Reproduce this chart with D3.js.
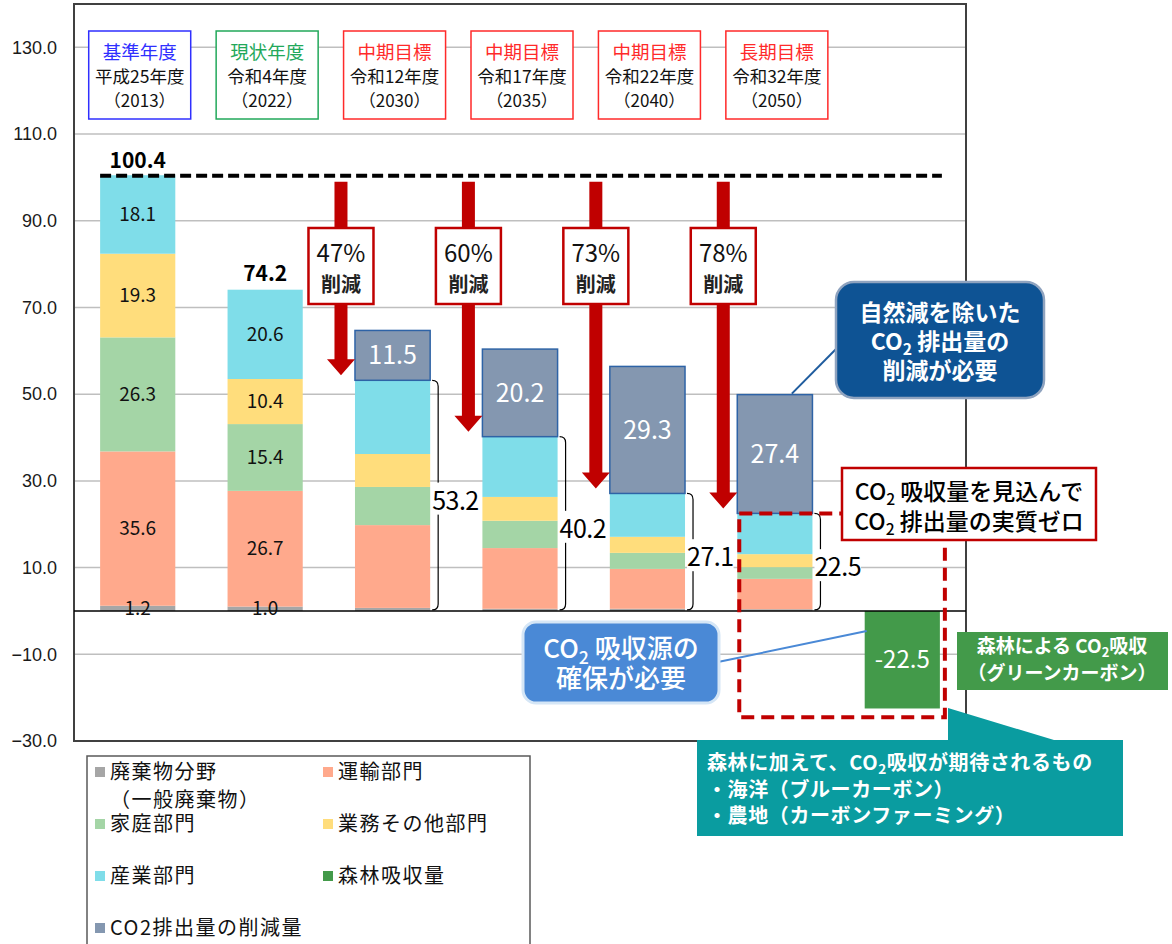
<!DOCTYPE html>
<html lang="ja">
<head>
<meta charset="utf-8">
<script src="https://cdn.jsdelivr.net/npm/d3@7"></script>
<style>
  body { margin: 0; background: #fff; }
  svg { display: block; font-family: "Noto Sans CJK JP", "Noto Sans", sans-serif; }
</style>
</head>
<body>
<svg id="chart" width="1172" height="944"></svg>
<script>
// ---- data ----
const years = ["2013", "2022", "2030", "2035", "2040", "2050", "森林"];
const haikibutsu = [1.2, 1.0, 0.7, 0.5, 0.5, 0.4, 0];
const unyu = [35.6, 26.7, 19.1, 14.0, 9.2, 7.0, 0];
const katei = [26.3, 15.4, 8.8, 6.3, 3.7, 2.7, 0];
const gyomu = [19.3, 10.4, 7.6, 5.5, 3.7, 3.0, 0];
const sangyo = [18.1, 20.6, 17.0, 13.9, 10.0, 9.4, 0];
const sakugen = [0, 0, 11.5, 20.2, 29.3, 27.4, 0];
const shinrin = [0, 0, 0, 0, 0, 0, -22.5];
const totals = [100.4, 74.2, 53.2, 40.2, 27.1, 22.5];
const cutRates = ["47%", "60%", "73%", "78%"];

const headTitles = ["基準年度", "現状年度", "中期目標", "中期目標", "中期目標", "長期目標"];
const headEras = ["平成25年度", "令和4年度", "令和12年度", "令和17年度", "令和22年度", "令和32年度"];
const headYears = ["2013", "2022", "2030", "2035", "2040", "2050"];
const headKinds = ["base", "now", "target", "target", "target", "target"];

const yTicks = [-30, -10, 10, 30, 50, 70, 90, 110, 130];

const keys = ["廃棄物", "運輸", "家庭", "業務", "産業", "削減量"];
const colors = {
    "廃棄物": "#a6a6a6",
    "運輸": "#ffa98c",
    "家庭": "#a4d5a6",
    "業務": "#ffdd7c",
    "産業": "#7fdde9",
    "削減量": "#8497b0",
    "森林": "#439a4a"
};
const headColors = { base: "#2f2fff", now: "#22a85a", target: "#ff2a2a" };

const legendItems = [
    { key: "廃棄物", lines: ["廃棄物分野", "（一般廃棄物）"], col: 0, row: 0 },
    { key: "運輸", lines: ["運輸部門"], col: 1, row: 0 },
    { key: "家庭", lines: ["家庭部門"], col: 0, row: 1 },
    { key: "業務", lines: ["業務その他部門"], col: 1, row: 1 },
    { key: "産業", lines: ["産業部門"], col: 0, row: 2 },
    { key: "森林", lines: ["森林吸収量"], col: 1, row: 2 },
    { key: "削減量", lines: ["CO2排出量の削減量"], col: 0, row: 3 }
];

// table for d3.stack
const rows = years.map((yr, i) => ({
    year: yr,
    "廃棄物": haikibutsu[i],
    "運輸": unyu[i],
    "家庭": katei[i],
    "業務": gyomu[i],
    "産業": sangyo[i],
    "削減量": sakugen[i]
}));

const svg = d3.select("#chart");

const x = d3.scaleBand()
    .domain(years)
    .range([74, 966])
    .paddingInner(0.41)
    .paddingOuter(0.205);

const y = d3.scaleLinear()
    .domain([-30, 140])
    .range([741, 4]);

const bw = x.bandwidth();
const cx = d => x(d) + bw / 2;

// text with "{2}" drawn as subscript
function richText(sel, str, fs) {
    const parts = str.split(/(\{[^}]*\})/);
    let shift = 0;
    parts.forEach(p => {
        if (!p) return;
        if (p[0] == "{") {
            sel.append("tspan")
                .attr("font-size", fs * 0.68)
                .attr("dy", fs * 0.22)
                .text(p.slice(1, -1));
            shift = fs * 0.22;
        } else {
            const t = sel.append("tspan").text(p);
            if (shift) { t.attr("dy", -shift); shift = 0; }
        }
    });
    return sel;
}

// ---- grid + axis ----
svg.append("g")
    .selectAll("line")
    .data(yTicks)
    .join("line")
    .attr("x1", x.range()[0])
    .attr("x2", x.range()[1])
    .attr("y1", d => y(d))
    .attr("y2", d => y(d))
    .attr("stroke", "#bfbfbf")
    .attr("stroke-width", 1.5);

const yAxis = svg.append("g")
    .attr("transform", `translate(${x.range()[0]},0)`)
    .call(d3.axisLeft(y)
        .tickValues(yTicks)
        .tickSize(0)
        .tickPadding(17)
        .tickFormat(d => (d < 0 ? "−" : "") + Math.abs(d).toFixed(1)));
yAxis.select(".domain").remove();
yAxis.selectAll("text")
    .attr("font-family", "'Liberation Sans', Arial, sans-serif")
    .attr("font-size", 18)
    .attr("fill", "#1a1a1a");

// plot frame
svg.append("rect")
    .attr("x", x.range()[0])
    .attr("y", y.range()[1])
    .attr("width", x.range()[1] - x.range()[0])
    .attr("height", y.range()[0] - y.range()[1])
    .attr("fill", "none")
    .attr("stroke", "#404040")
    .attr("stroke-width", 2);

// ---- stacked bars ----
const stacked = d3.stack().keys(keys)(rows);

const layer = svg.append("g")
    .selectAll("g")
    .data(stacked)
    .join("g")
    .attr("fill", d => colors[d.key]);

layer.selectAll("rect")
    .data(d => d.filter(s => s[1] - s[0] > 0).map(s => Object.assign(s, { key: d.key })))
    .join("rect")
    .attr("x", d => x(d.data.year))
    .attr("y", d => y(d[1]))
    .attr("width", bw)
    .attr("height", d => y(d[0]) - y(d[1]))
    .attr("stroke", d => d.key == "削減量" ? "#2e63a6" : "none")
    .attr("stroke-width", 1.5);

// forest absorption bar
svg.append("g")
    .selectAll("rect")
    .data(years.map((yr, i) => ({ year: yr, v: shinrin[i] })).filter(d => d.v < 0))
    .join("rect")
    .attr("x", d => x(d.year))
    .attr("y", y(0))
    .attr("width", bw)
    .attr("height", d => y(d.v) - y(0))
    .attr("fill", colors["森林"]);

// zero line
svg.append("line")
    .attr("x1", x.range()[0])
    .attr("x2", x.range()[1])
    .attr("y1", y(0))
    .attr("y2", y(0))
    .attr("stroke", "#000")
    .attr("stroke-width", 1.5);

// segment labels (2013, 2022 only)
const segLabels = [];
stacked.forEach(layerData => {
    layerData.forEach((s, i) => {
        if (i < 2 && layerData.key != "削減量")
            segLabels.push({ year: s.data.year, v: s[1] - s[0], mid: (s[0] + s[1]) / 2 });
    });
});
svg.append("g")
    .selectAll("text")
    .data(segLabels)
    .join("text")
    .attr("x", d => cx(d.year))
    .attr("y", d => y(d.mid))
    .attr("dy", "0.35em")
    .attr("text-anchor", "middle")
    .attr("font-size", 19)
    .attr("fill", "#111")
    .text(d => d.v.toFixed(1));

// reduction labels (white)
svg.append("g")
    .selectAll("text")
    .data(rows.filter(r => r["削減量"] > 0))
    .join("text")
    .attr("x", d => cx(d.year))
    .attr("y", d => y(totals[years.indexOf(d.year)] + d["削減量"] / 2))
    .attr("dy", "0.36em")
    .attr("text-anchor", "middle")
    .attr("font-size", 25)
    .attr("fill", "#fff")
    .text(d => d["削減量"].toFixed(1));

// forest label
svg.append("text")
    .attr("x", cx("森林"))
    .attr("y", y(shinrin[6] / 2))
    .attr("dy", "0.36em")
    .attr("text-anchor", "middle")
    .attr("font-size", 24)
    .attr("fill", "#fff")
    .text(shinrin[6].toFixed(1));

// totals for 2013 / 2022
svg.append("g")
    .selectAll("text")
    .data(totals.slice(0, 2))
    .join("text")
    .attr("x", (d, i) => cx(years[i]))
    .attr("y", d => y(d) - 8)
    .attr("text-anchor", "middle")
    .attr("font-size", 21)
    .attr("font-weight", 700)
    .attr("fill", "#000")
    .text(d => d.toFixed(1));

// 2013 reference dashed line
svg.append("line")
    .attr("x1", x(years[0]))
    .attr("x2", x("森林") + bw + 2)
    .attr("y1", y(totals[0]))
    .attr("y2", y(totals[0]))
    .attr("stroke", "#000")
    .attr("stroke-width", 4)
    .attr("stroke-dasharray", "11 5");

// ---- header boxes ----
const head = svg.append("g")
    .selectAll("g")
    .data(headTitles.map((t, i) => ({ t, era: headEras[i], yr: headYears[i], kind: headKinds[i], year: years[i] })))
    .join("g")
    .attr("transform", d => `translate(${cx(d.year) + 2},31)`);

head.append("rect")
    .attr("x", -51)
    .attr("width", 102)
    .attr("height", 88)
    .attr("fill", "#fff")
    .attr("stroke", d => headColors[d.kind])
    .attr("stroke-width", 1.5);

head.append("text")
    .attr("y", 28)
    .attr("text-anchor", "middle")
    .attr("font-size", 18.5)
    .attr("fill", d => headColors[d.kind])
    .text(d => d.t);

head.append("text")
    .attr("y", 52)
    .attr("text-anchor", "middle")
    .attr("font-size", 17.5)
    .attr("fill", "#111")
    .text(d => d.era);

head.append("text")
    .attr("y", 76)
    .attr("text-anchor", "middle")
    .attr("font-size", 17)
    .attr("fill", "#111")
    .text(d => `（${d.yr}）`);

// ---- red arrows with reduction rates ----
const arrows = svg.append("g")
    .selectAll("g")
    .data(cutRates.map((r, i) => ({ rate: r, year: years[i + 2], total: totals[i + 2] })))
    .join("g");

arrows.append("path")
    .attr("fill", "#c00000")
    .attr("d", d => {
        const ax = x(d.year) - 14;
        const y0 = y(totals[0]) + 6;
        const ty = y(d.total) - 5;
        return `M${ax - 6.5},${y0} L${ax + 6.5},${y0} L${ax + 6.5},${ty - 16} L${ax + 14},${ty - 16} ` +
            `L${ax},${ty} L${ax - 14},${ty - 16} L${ax - 6.5},${ty - 16} Z`;
    });

arrows.append("rect")
    .attr("x", d => x(d.year) - 14 - 32.5)
    .attr("y", 228)
    .attr("width", 65)
    .attr("height", 76)
    .attr("fill", "#fff")
    .attr("stroke", "#c00000")
    .attr("stroke-width", 2.5);

arrows.append("text")
    .attr("x", d => x(d.year) - 14)
    .attr("y", 262)
    .attr("text-anchor", "middle")
    .attr("font-size", 24)
    .attr("fill", "#111")
    .text(d => d.rate);

arrows.append("text")
    .attr("x", d => x(d.year) - 14)
    .attr("y", 292)
    .attr("text-anchor", "middle")
    .attr("font-size", 20)
    .attr("font-weight", 700)
    .attr("fill", "#222")
    .text("削減");

// ---- braces with remaining totals ----
const braces = svg.append("g")
    .selectAll("g")
    .data(totals.slice(2).map((t, i) => ({ total: t, year: years[i + 2] })))
    .join("g");

braces.append("path")
    .attr("fill", "none")
    .attr("stroke", "#000")
    .attr("stroke-width", 1.2)
    .attr("d", d => {
        const bx = x(d.year) + bw + 8;
        const yt = y(d.total), yb = y(0) - 1;
        return `M${bx - 6},${yt} Q${bx},${yt} ${bx},${yt + 6} L${bx},${yb - 6} Q${bx},${yb} ${bx - 6},${yb}`;
    });

braces.each(function (d) {
    const g = d3.select(this);
    const t = g.append("text")
        .attr("x", x(d.year) + bw + 2)
        .attr("y", y(d.total / 2) + 5)
        .attr("dy", "0.36em")
        .attr("font-size", 25)
        .attr("letter-spacing", -0.5)
        .attr("fill", "#000")
        .text(d.total.toFixed(1));
    const bb = t.node().getBBox();
    g.insert("rect", "text")
        .attr("x", bb.x)
        .attr("y", bb.y + 2)
        .attr("width", bb.width)
        .attr("height", bb.height - 4)
        .attr("fill", "#fff");
});

// ---- net-zero dashed frame ----
const zx0 = x(years[5]) + 2;
const zx1 = x("森林") + bw + 5;
svg.append("rect")
    .attr("x", zx0)
    .attr("y", y(totals[5]))
    .attr("width", zx1 - zx0)
    .attr("height", y(-24.5) - y(totals[5]))
    .attr("fill", "none")
    .attr("stroke", "#c00000")
    .attr("stroke-width", 4)
    .attr("stroke-dasharray", "13 7");

// ---- callouts ----
// dark blue: reduction needed
svg.append("line")
    .attr("x1", cx(years[5]) + 17).attr("y1", y(totals[5] + sakugen[5]) - 1)
    .attr("x2", 840).attr("y2", 345)
    .attr("stroke", "#1f5c9e").attr("stroke-width", 2);
svg.append("rect")
    .attr("x", 836).attr("y", 282).attr("width", 208).attr("height", 116)
    .attr("rx", 18)
    .attr("fill", "#0e5394")
    .attr("stroke", "#8fa3bf")
    .attr("stroke-width", 2.5);
["自然減を除いた", "CO{2} 排出量の", "削減が必要"].forEach((s, i) => {
    richText(svg.append("text")
        .attr("x", 940).attr("y", 321 + i * 29)
        .attr("text-anchor", "middle")
        .attr("font-size", 23)
        .attr("font-weight", 700)
        .attr("fill", "#fff"), s, 23);
});

// red box: net zero
svg.append("rect")
    .attr("x", 842).attr("y", 468).attr("width", 254).attr("height", 72)
    .attr("fill", "#fff")
    .attr("stroke", "#c00000")
    .attr("stroke-width", 2.5);
["CO{2} 吸収量を見込んで", "CO{2} 排出量の実質ゼロ"].forEach((s, i) => {
    richText(svg.append("text")
        .attr("x", 969).attr("y", 500 + i * 30)
        .attr("text-anchor", "middle")
        .attr("font-size", 23)
        .attr("font-weight", 500)
        .attr("fill", "#000"), s, 23);
});

// green label: forest
svg.append("rect")
    .attr("x", 957).attr("y", 632).attr("width", 211).attr("height", 58)
    .attr("fill", colors["森林"]);
["森林による CO{2}吸収", "（グリーンカーボン）"].forEach((s, i) => {
    richText(svg.append("text")
        .attr("x", 1062).attr("y", 653 + i * 27)
        .attr("text-anchor", "middle")
        .attr("font-size", 19)
        .attr("font-weight", 700)
        .attr("fill", "#fff"), s, 19);
});

// blue: absorption source
svg.append("line")
    .attr("x1", 718).attr("y1", 662)
    .attr("x2", x("森林") + 2).attr("y2", 631)
    .attr("stroke", "#4a89d6").attr("stroke-width", 2);
svg.append("rect")
    .attr("x", 523).attr("y", 622).attr("width", 196).attr("height", 81)
    .attr("rx", 13)
    .attr("fill", "#4a89d6")
    .attr("stroke", "#d5e6f6")
    .attr("stroke-width", 3);
["CO{2} 吸収源の", "確保が必要"].forEach((s, i) => {
    richText(svg.append("text")
        .attr("x", 621).attr("y", 658 + i * 30)
        .attr("text-anchor", "middle")
        .attr("font-size", 26)
        .attr("font-weight", 500)
        .attr("fill", "#fff"), s, 26);
});

// ---- legend ----
svg.append("rect")
    .attr("x", 87).attr("y", 756).attr("width", 443).attr("height", 200)
    .attr("fill", "#fff")
    .attr("stroke", "#595959")
    .attr("stroke-width", 1.5);

const leg = svg.append("g")
    .selectAll("g")
    .data(legendItems)
    .join("g")
    .attr("transform", d => `translate(${d.col ? 323 : 95},${772 + d.row * 52})`);

leg.append("rect")
    .attr("y", -5)
    .attr("width", 10)
    .attr("height", 10)
    .attr("fill", d => colors[d.key]);

leg.append("text")
    .attr("x", 15)
    .attr("font-size", 20)
    .attr("letter-spacing", 1.5)
    .attr("fill", "#111")
    .selectAll("tspan")
    .data(d => d.lines)
    .join("tspan")
    .attr("x", 15)
    .attr("y", (d, i) => i * 28)
    .attr("dy", "0.36em")
    .text(d => d);

// ---- teal note ----
svg.append("path")
    .attr("fill", "#0a9ca0")
    .attr("d", "M697,740 L948,740 L948,708 L1054,740 L1123,740 L1123,836 L697,836 Z");
["森林に加えて、CO{2}吸収が期待されるもの", "・海洋（ブルーカーボン）", "・農地（カーボンファーミング）"].forEach((s, i) => {
    richText(svg.append("text")
        .attr("x", 707).attr("y", 770 + i * 26.5)
        .attr("font-size", 20)
        .attr("font-weight", 700)
        .attr("letter-spacing", 0.6)
        .attr("fill", "#fff"), s, 20);
});
</script>
</body>
</html>
